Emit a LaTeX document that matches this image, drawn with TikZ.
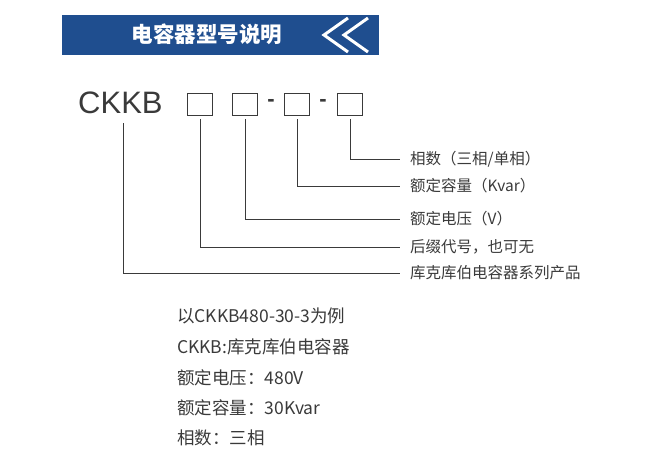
\documentclass[tikz,border=0pt]{standalone}
\usepackage{fontspec}
\setmainfont{Noto Sans CJK SC}
\newfontfamily\lat{Liberation Sans}
\definecolor{banner}{HTML}{1F4E8F}
\definecolor{ink}{HTML}{3A3A3A}
\begin{document}
\begin{tikzpicture}[x=1pt,y=-1pt,
  lbl/.style={anchor=west,font=\fontsize{15.5}{18}\selectfont,text=ink,inner sep=0},
  body/.style={anchor=west,font=\fontsize{17.5}{20}\selectfont,text=ink,inner sep=0},
  sq/.style={draw=ink,line width=0.9pt,minimum width=25,minimum height=22,inner sep=0},
  ln/.style={draw=ink,line width=0.8pt}]
\useasboundingbox (0,0) rectangle (667,450);
\fill[banner] (62,15) -- (379,15) -- (379,55) -- (62,55) -- cycle;
\draw[white,line width=3pt] (348,18) -- (324,35) -- (348,52);
\draw[white,line width=3pt] (368,18) -- (344,35) -- (368,52);
\node[font=\bfseries\fontsize{21.5}{24}\selectfont,text=white] (title) at (207,34) {电容器型号说明};
\node[anchor=west,font=\lat\fontsize{31}{34}\selectfont,text=ink,inner sep=0] (ckkb) at (78,103) {CKKB};
\node[sq] (b1) at (200,104) {};
\node[sq] (b2) at (245,104) {};
\node[font=\lat\bfseries\fontsize{22}{22}\selectfont,text=ink] (d1) at (271,103) {-};
\node[sq] (b3) at (297,104) {};
\node[font=\lat\bfseries\fontsize{22}{22}\selectfont,text=ink] (d2) at (323,103) {-};
\node[sq] (b4) at (350,104) {};
\coordinate (c0) at (400,273);
\coordinate (c1) at (400,247);
\coordinate (c2) at (400,219);
\coordinate (c3) at (400,186);
\coordinate (c4) at (400,159);
\draw[ln] (123,123) |- (c0);
\draw[ln] (b1.south) ++(0,4) |- (c1);
\draw[ln] (b2.south) ++(0,4) |- (c2);
\draw[ln] (b3.south) ++(0,4) |- (c3);
\draw[ln] (b4.south) ++(0,4) |- (c4);
\node[lbl] (t4) at (410,159) {相数（三相/单相）};
\node[lbl] (t3) at (410,186) {额定容量（Kvar）};
\node[lbl] (t2) at (410,219) {额定电压（V）};
\node[lbl] (t1) at (410,247) {后缀代号，也可无};
\node[lbl] (t0) at (410,273) {库克库伯电容器系列产品};
\node[body] (e1) at (177,316) {以CKKB480-30-3为例};
\node[body] (e2) at (177,347) {CKKB:库克库伯电容器};
\node[body] (e3) at (177,378) {额定电压：480V};
\node[body] (e4) at (177,408) {额定容量：30Kvar};
\node[body] (e5) at (177,438) {相数：三相};
\end{tikzpicture}
\end{document}
